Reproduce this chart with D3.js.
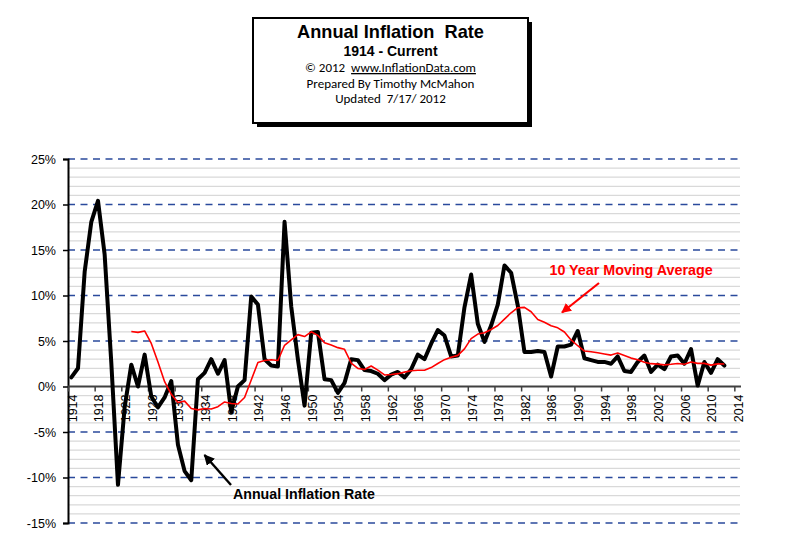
<!DOCTYPE html>
<html>
<head>
<meta charset="utf-8">
<script src="https://cdn.jsdelivr.net/npm/d3@7"></script>
<style>
  html, body { margin: 0; padding: 0; background: #fff; }
  svg { display: block; }
</style>
</head>
<body>
<svg id="chart" width="800" height="545"></svg>
<script>
// ---- Data ----
const years = d3.range(1914, 2013); // 1914 .. 2012
const annualRate = [
  1.0, 2.0, 12.6, 18.1, 20.4, 14.5, 2.6, -10.8, -2.3, 2.4,
  0.0, 3.5, -1.1, -2.3, -1.2, 0.6, -6.4, -9.3, -10.3, 0.8,
  1.5, 3.0, 1.4, 2.9, -2.8, 0.0, 0.7, 9.9, 9.0, 3.0,
  2.3, 2.2, 18.1, 8.8, 3.0, -2.1, 5.9, 6.0, 0.8, 0.7,
  -0.7, 0.4, 3.0, 2.9, 1.8, 1.7, 1.4, 0.7, 1.3, 1.6,
  1.0, 1.9, 3.5, 3.0, 4.7, 6.2, 5.6, 3.3, 3.4, 8.7,
  12.3, 6.9, 4.9, 6.7, 9.0, 13.3, 12.5, 8.9, 3.8, 3.8,
  3.9, 3.8, 1.1, 4.4, 4.4, 4.6, 6.1, 3.1, 2.9, 2.7,
  2.7, 2.5, 3.3, 1.7, 1.6, 2.7, 3.4, 1.6, 2.4, 1.9,
  3.3, 3.4, 2.5, 4.1, 0.1, 2.7, 1.5, 3.0, 2.3
];
const maYears = d3.range(1923, 2013); // 1923 .. 2012
const movingAvg = [
  6.05, 5.95, 6.10, 4.73, 2.69, 0.53, -0.86, -1.76, -1.61, -2.41,
  -2.57, -2.42, -2.47, -2.22, -1.70, -1.86, -1.92, -1.21, 0.71, 2.64,
  2.86, 2.94, 2.86, 4.53, 5.12, 5.70, 5.49, 6.01, 5.62, 4.80,
  4.57, 4.27, 4.09, 2.58, 1.99, 1.87, 2.25, 1.80, 1.27, 1.32,
  1.41, 1.58, 1.73, 1.78, 1.79, 2.08, 2.53, 2.95, 3.21, 3.42,
  4.13, 5.26, 5.76, 5.90, 6.27, 6.70, 7.41, 8.10, 8.66, 8.70,
  8.21, 7.37, 7.06, 6.68, 6.45, 5.99, 5.12, 4.48, 3.90, 3.81,
  3.70, 3.58, 3.45, 3.67, 3.40, 3.12, 2.93, 2.66, 2.51, 2.46,
  2.38, 2.44, 2.53, 2.45, 2.69, 2.54, 2.54, 2.35, 2.49, 2.48
];
const yTicks = [-15, -10, -5, 0, 5, 10, 15, 20, 25];
const xTickLabels = d3.range(1914, 2015, 4); // 1914 .. 2014
const titleLines = [
  "Annual Inflation  Rate",
  "1914 - Current",
  "© 2012  www.InflationData.com",
  "Prepared By Timothy McMahon",
  "Updated  7/17/ 2012"
];

// ---- Layout ----
const svg = d3.select("#chart");
const pL = 68, pR = 741, pT = 159, pB = 523;
const ARIAL = "Arial, 'Liberation Sans', sans-serif";
const CALI = "Carlito, Lato, 'Open Sans', sans-serif";

const x = d3.scaleLinear().domain([1913.5, 2014.5]).range([pL, pR]);
const y = d3.scaleLinear().domain([-15, 25]).range([pB, pT]);

// minor grid (every 1%)
const minor = d3.range(-15, 26).filter(v => v % 5 !== 0);
svg.append("g").selectAll("line").data(minor).join("line")
  .attr("x1", pL).attr("x2", pR - 1)
  .attr("y1", d => y(d)).attr("y2", d => y(d))
  .attr("stroke", "#d9d9d9").attr("stroke-width", 1.2);

// major dashed grid
svg.append("g").selectAll("line").data(yTicks.filter(v => v !== 0)).join("line")
  .attr("x1", pL).attr("x2", pR - 3)
  .attr("y1", d => y(d)).attr("y2", d => y(d))
  .attr("stroke", "#2a4a9c").attr("stroke-width", 1.6)
  .attr("stroke-dasharray", "7,5.5");

// y axis
const yAxis = svg.append("g").attr("transform", `translate(${pL},0)`)
  .call(d3.axisLeft(y).tickValues(yTicks).tickFormat(d => d + "%").tickSize(5).tickPadding(7));
yAxis.select(".domain").attr("stroke", "#000").attr("stroke-width", 2);
yAxis.selectAll(".tick line").attr("stroke", "#000").attr("stroke-width", 1.5);
yAxis.selectAll(".tick text").attr("font-family", ARIAL).attr("font-size", 12.5).attr("fill", "#000");

// x axis (category boundaries at half-years)
const xAxis = svg.append("g").attr("transform", `translate(0,${y(0)})`)
  .call(d3.axisBottom(x).tickValues(xTickLabels.map(d => d - 0.5)).tickSize(5).tickFormat(""));
xAxis.select(".domain").attr("stroke", "#404040").attr("stroke-width", 2).attr("d", `M${pL},0H${pR}`);
xAxis.selectAll(".tick line").attr("stroke", "#404040").attr("stroke-width", 1.5);

svg.append("g").selectAll("text").data(xTickLabels).join("text")
  .attr("transform", d => `translate(${x(d) + 1},${y(0) + 8}) rotate(-90)`)
  .attr("text-anchor", "end").attr("dy", "0.35em")
  .attr("font-family", ARIAL).attr("font-size", 12.5).attr("fill", "#000")
  .text(d => d);

// lines
const line = d3.line().x(d => x(d[0])).y(d => y(d[1]));
svg.append("path").datum(years.map((yr, i) => [yr, annualRate[i]]))
  .attr("d", line).attr("fill", "none").attr("stroke", "#000")
  .attr("stroke-width", 4).attr("stroke-linejoin", "round").attr("stroke-linecap", "round");
svg.append("path").datum(maYears.map((yr, i) => [yr, movingAvg[i]]))
  .attr("d", line).attr("fill", "none").attr("stroke", "#ff0000")
  .attr("stroke-width", 1.6).attr("stroke-linejoin", "round");

// arrow markers
const defs = svg.append("defs");
[["arrBlack", "#000"], ["arrRed", "#ff0000"]].forEach(([id, c]) => {
  defs.append("marker").attr("id", id).attr("viewBox", "0 0 10 10")
    .attr("refX", 9).attr("refY", 5).attr("markerWidth", 4.5).attr("markerHeight", 4.5)
    .attr("markerUnits", "strokeWidth").attr("orient", "auto")
    .append("path").attr("d", "M0,0L10,5L0,10Z").attr("fill", c);
});

// annotations
svg.append("line").attr("x1", 599).attr("y1", 283).attr("x2", 562).attr("y2", 312.5)
  .attr("stroke", "#ff0000").attr("stroke-width", 2.2).attr("marker-end", "url(#arrRed)");
svg.append("text").attr("x", 549.5).attr("y", 275)
  .attr("font-family", ARIAL).attr("font-size", 14.3).attr("font-weight", "bold").attr("fill", "#ff0000")
  .text("10 Year Moving Average");

svg.append("line").attr("x1", 231).attr("y1", 485).attr("x2", 204.5).attr("y2", 455)
  .attr("stroke", "#000").attr("stroke-width", 2.4).attr("marker-end", "url(#arrBlack)");
svg.append("text").attr("x", 233).attr("y", 498.5)
  .attr("font-family", ARIAL).attr("font-size", 14.2).attr("font-weight", "bold").attr("fill", "#000")
  .text("Annual Inflation Rate");

// title box
const bx = 253, by = 18, bw = 275, bh = 105;
svg.append("rect").attr("x", bx + 4).attr("y", by + 4).attr("width", bw).attr("height", bh).attr("fill", "#000");
svg.append("rect").attr("x", bx).attr("y", by).attr("width", bw).attr("height", bh)
  .attr("fill", "#fff").attr("stroke", "#000").attr("stroke-width", 2);
const cx = bx + bw / 2;
const tStyles = [
  { y: 38, f: ARIAL, s: 18.2, w: "bold" },
  { y: 56, f: ARIAL, s: 14, w: "bold" },
  { y: 72, f: CALI, s: 13, w: "normal" },
  { y: 87.5, f: CALI, s: 13, w: "normal" },
  { y: 102.5, f: CALI, s: 13, w: "normal" }
];
const tt = svg.append("g").selectAll("text").data(titleLines).join("text")
  .attr("x", cx).attr("y", (d, i) => tStyles[i].y)
  .attr("text-anchor", "middle").attr("fill", "#000")
  .attr("font-family", (d, i) => tStyles[i].f)
  .attr("font-size", (d, i) => tStyles[i].s)
  .attr("font-weight", (d, i) => tStyles[i].w)
  .style("white-space", "pre");
tt.each(function(d, i) {
  const t = d3.select(this);
  if (i === 2) {
    t.append("tspan").text("© 2012  ");
    t.append("tspan").attr("text-decoration", "underline").text("www.InflationData.com");
  } else {
    t.text(d);
  }
});
</script>
</body>
</html>
